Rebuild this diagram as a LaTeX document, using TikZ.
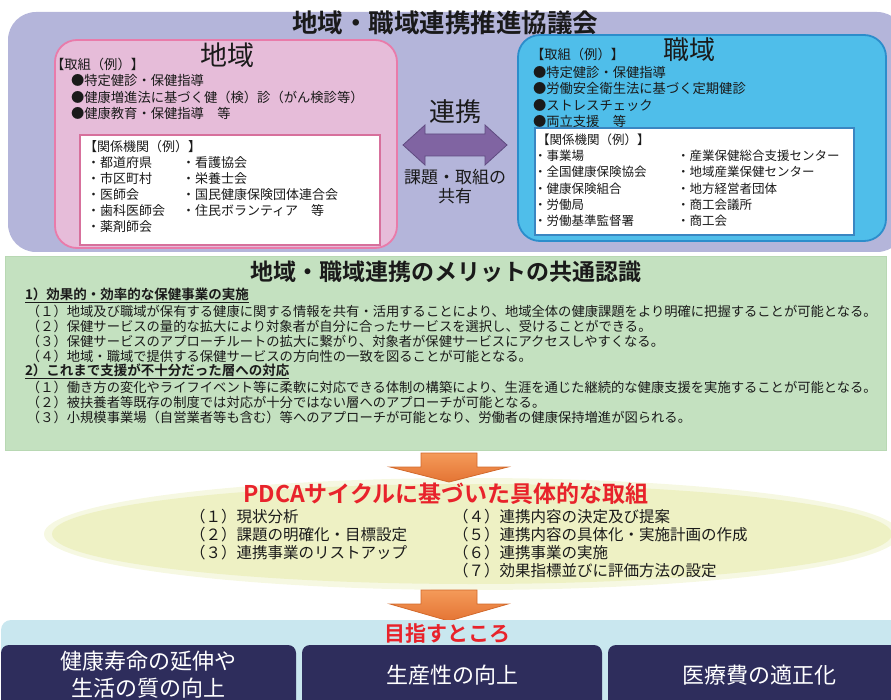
\documentclass[tikz,border=0pt]{standalone}
\usepackage{fontspec}
\setmainfont{Noto Sans CJK JP}[BoldFont={Noto Sans CJK JP Bold}]
\definecolor{outerpurple}{HTML}{B4B5DA}
\definecolor{pinkfill}{HTML}{E6BCD9}
\definecolor{pinkline}{HTML}{E97BAA}
\definecolor{bluefill}{HTML}{4FBEEA}
\definecolor{blueline}{HTML}{2C8DCB}
\definecolor{wpink}{HTML}{D7709C}
\definecolor{wblue}{HTML}{3A86C2}
\definecolor{arrowpurple}{HTML}{8064A2}
\definecolor{arrowpurpleline}{HTML}{5F4B80}
\definecolor{greenfill}{HTML}{C4E1C0}
\definecolor{greenline}{HTML}{B8D8B3}
\definecolor{ellfill}{HTML}{EEF1C4}
\definecolor{ellsoft}{HTML}{F6F8E2}
\definecolor{orangetop}{HTML}{F49A59}
\definecolor{orangebot}{HTML}{E47434}
\definecolor{orangeline}{HTML}{D2692B}
\definecolor{pdcared}{HTML}{E8232B}
\definecolor{bandblue}{HTML}{C9E7EF}
\definecolor{navy}{HTML}{2E2D5C}
\definecolor{txt}{HTML}{1A1A1A}
\begin{document}
\begin{tikzpicture}[x=1pt,y=-1pt,
  every node/.style={inner sep=0pt,outer sep=0pt,text=txt},
  lbl/.style={anchor=west},
  fa/.style={font=\fontsize{13.3}{15}\selectfont},
  fb/.style={font=\fontsize{13}{15}\selectfont},
  fbb/.style={font=\fontsize{12.5}{15}\selectfont},
  fg/.style={font=\fontsize{13.3}{15}\selectfont},
  fgh/.style={font=\fontsize{13.5}{15}\selectfont\bfseries},
  fp/.style={font=\fontsize{15.5}{17}\selectfont},
  fnavy/.style={font=\fontsize{22}{26}\selectfont,text=white},
  orangearrow/.style={top color=orangetop,bottom color=orangebot,draw=orangeline,line width=0.8},
  whitebox/.style={fill=white,line width=1.5}
]
\useasboundingbox (0,0) rectangle (891,700);

% ---------- top council box ----------
\fill[outerpurple, rounded corners=28] (8,12) rectangle (905,252);
\node[font=\fontsize{25.5}{28}\selectfont\bfseries] (title) at (445,23) {地域・職域連携推進協議会};

% pink (region)
\draw[pinkline, line width=1.8, fill=pinkfill, rounded corners=22] (55,40) rectangle (397,248);
\node[font=\fontsize{27}{30}\selectfont] (chiiki) at (227,55) {地域};
\node[lbl,fa] (ct0) at (51,64) {【取組（例）】};
\node[lbl,fa] (ct1) at (71,80) {●特定健診・保健指導};
\node[lbl,fa] (ct2) at (71,97) {●健康増進法に基づく健（検）診（がん検診等）};
\node[lbl,fa] (ct3) at (71,113) {●健康教育・保健指導　等};
\draw[wpink, whitebox] (80,135) rectangle (380,245);
\node[lbl,fb] (ck0) at (84,147) {【関係機関（例）】};
\node[lbl,fb] (ck1) at (87,163) {・都道府県};
\node[lbl,fb] (ck2) at (87,179) {・市区町村};
\node[lbl,fb] (ck3) at (87,195) {・医師会};
\node[lbl,fb] (ck4) at (87,211) {・歯科医師会};
\node[lbl,fb] (ck5) at (87,227) {・薬剤師会};
\node[lbl,fb] (ck6) at (182,163) {・看護協会};
\node[lbl,fb] (ck7) at (182,179) {・栄養士会};
\node[lbl,fb] (ck8) at (182,195) {・国民健康保険団体連合会};
\node[lbl,fb] (ck9) at (182,211) {・住民ボランティア　等};

% blue (workplace)
\draw[blueline, line width=1.8, fill=bluefill, rounded corners=22] (518,35) rectangle (886,241);
\node[font=\fontsize{26}{30}\selectfont] (shokuiki) at (689,50) {職域};
\node[lbl,fa] (st0) at (531,54) {【取組（例）】};
\node[lbl,fa] (st1) at (533,72) {●特定健診・保健指導};
\node[lbl,fa] (st2) at (533,88) {●労働安全衛生法に基づく定期健診};
\node[lbl,fa] (st3) at (533,105) {●ストレスチェック};
\node[lbl,fa] (st4) at (533,121) {●両立支援　等};
\draw[wblue, whitebox] (535,128) rectangle (854,235);
\node[lbl,fbb] (sk0) at (537,140) {【関係機関（例）】};
\node[lbl,fbb] (sk1) at (534,156) {・事業場};
\node[lbl,fbb] (sk2) at (534,172) {・全国健康保険協会};
\node[lbl,fbb] (sk3) at (534,189) {・健康保険組合};
\node[lbl,fbb] (sk4) at (534,205) {・労働局};
\node[lbl,fbb] (sk5) at (534,221) {・労働基準監督署};
\node[lbl,fbb] (sk6) at (677,156) {・産業保健総合支援センター};
\node[lbl,fbb] (sk7) at (677,172) {・地域産業保健センター};
\node[lbl,fbb] (sk8) at (677,189) {・地方経営者団体};
\node[lbl,fbb] (sk9) at (677,205) {・商工会議所};
\node[lbl,fbb] (sk10) at (677,221) {・商工会};

% link
\node[font=\fontsize{26}{30}\selectfont] (renkei) at (455,112) {連携};
\draw[fill=arrowpurple, draw=arrowpurpleline, line width=0.8, line join=miter]
  (403,145) -- (425,125) -- (425,134) -- (485,134) -- (485,125) -- (507,145)
  -- (485,165) -- (485,156) -- (425,156) -- (425,165) -- cycle;
\node[font=\fontsize{17}{20}\selectfont] (kadai1) at (455,177) {課題・取組の};
\node[font=\fontsize{17}{20}\selectfont] (kadai2) at (455,196) {共有};

% ---------- merits ----------
\draw[greenline, fill=greenfill, line width=0.6] (5,256) rectangle (886,450);
\node[font=\fontsize{23}{26}\selectfont\bfseries] (merit) at (446,272) {地域・職域連携のメリットの共通認識};
\node[lbl,fgh] (h1) at (25,295) {\underline{1）効果的・効率的な保健事業の実施}};
\node[lbl,fg] (m11) at (27,311) {（１）地域及び職域が保有する健康に関する情報を共有・活用することにより、地域全体の健康課題をより明確に把握することが可能となる。};
\node[lbl,fg] (m12) at (27,326) {（２）保健サービスの量的な拡大により対象者が自分に合ったサービスを選択し、受けることができる。};
\node[lbl,fg] (m13) at (27,341) {（３）保健サービスのアプローチルートの拡大に繋がり、対象者が保健サービスにアクセスしやすくなる。};
\node[lbl,fg] (m14) at (27,356) {（４）地域・職域で提供する保健サービスの方向性の一致を図ることが可能となる。};
\node[lbl,fgh] (h2) at (25,371) {\underline{2）これまで支援が不十分だった層への対応}};
\node[lbl,fg] (m21) at (27,387) {（１）働き方の変化やライフイベント等に柔軟に対応できる体制の構築により、生涯を通じた継続的な健康支援を実施することが可能となる。};
\node[lbl,fg] (m22) at (27,402) {（２）被扶養者等既存の制度では対応が十分ではない層へのアプローチが可能となる。};
\node[lbl,fg] (m23) at (27,417) {（３）小規模事業場（自営業者等も含む）等へのアプローチが可能となり、労働者の健康保持増進が図られる。};

% ---------- PDCA ----------
\fill[ellsoft] (472,534) ellipse [x radius=428pt, y radius=56pt];
\fill[ellfill] (472,534) ellipse [x radius=420pt, y radius=50pt];
\draw[orangearrow, line join=miter]
  (421,453) -- (477,453) -- (477,467) -- (508,467) -- (449,482) -- (390,467) -- (421,467) -- cycle;
\node[font=\fontsize{23}{26}\selectfont\bfseries, text=pdcared] (pdca) at (446,494) {PDCAサイクルに基づいた具体的な取組};
\node[lbl,fp] (p1) at (190,517) {（１）現状分析};
\node[lbl,fp] (p2) at (190,535) {（２）課題の明確化・目標設定};
\node[lbl,fp] (p3) at (190,553) {（３）連携事業のリストアップ};
\node[lbl,fp] (p4) at (453,517) {（４）連携内容の決定及び提案};
\node[lbl,fp] (p5) at (453,535) {（５）連携内容の具体化・実施計画の作成};
\node[lbl,fp] (p6) at (453,553) {（６）連携事業の実施};
\node[lbl,fp] (p7) at (453,571) {（７）効果指標並びに評価方法の設定};
\draw[orangearrow, line join=miter]
  (421,590) -- (477,590) -- (477,604) -- (508,604) -- (449,621) -- (390,604) -- (421,604) -- cycle;

% ---------- goals ----------
\fill[bandblue, rounded corners=10] (1,620) rectangle (905,720);
\node[font=\fontsize{21}{24}\selectfont\bfseries, text=pdcared] (goal) at (447,634) {目指すところ};
\fill[navy, rounded corners=8] (1,645) rectangle (296,720);
\fill[navy, rounded corners=8] (302,645) rectangle (602,720);
\fill[navy, rounded corners=8] (608,645) rectangle (905,720);
\node[fnavy] (g1a) at (148,661) {健康寿命の延伸や};
\node[fnavy] (g1b) at (148,688) {生活の質の向上};
\node[fnavy] (g2) at (452,675) {生産性の向上};
\node[fnavy] (g3) at (759,675) {医療費の適正化};
\end{tikzpicture}
\end{document}
